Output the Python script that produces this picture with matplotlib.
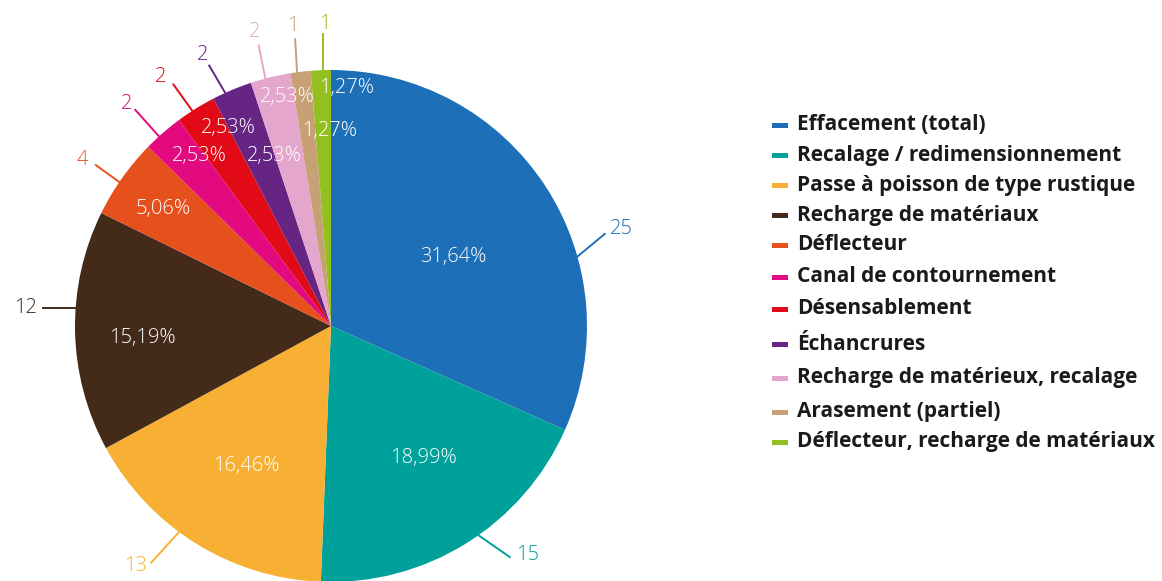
import numpy as np
import matplotlib
matplotlib.use("Agg")
import matplotlib.pyplot as plt
from matplotlib.patches import Rectangle

plt.rcParams['font.family'] = ['Open Sans', 'DejaVu Sans']

# data
categories = ["Effacement (total)", "Recalage / redimensionnement",
              "Passe à poisson de type rustique", "Recharge de matériaux",
              "Déflecteur", "Canal de contournement", "Désensablement",
              "Échancrures", "Recharge de matérieux, recalage",
              "Arasement (partiel)", "Déflecteur, recharge de matériaux"]
counts = [25, 15, 13, 12, 4, 2, 2, 2, 2, 1, 1]
pct_labels = ["31,64%", "18,99%", "16,46%", "15,19%", "5,06%", "2,53%",
              "2,53%", "2,53%", "2,53%", "1,27%", "1,27%"]
colors = ["#1d6fb8", "#00a19b", "#f7b034", "#442a19", "#e6501c", "#e3097f",
          "#e20a17", "#662583", "#e5a6cd", "#c8a075", "#93c01f"]

# layout (pixels, figure is 1162x581)
W, H = 1162, 581
cx, cy, R = 331, H - 326, 256
# percentage labels: angle offset from wedge middle, radius fraction
pct_off = [-3.5, 3.2, 0.9, 2.5, 0.4, -3.2, -4.6, -4.2, -3.0, -6.5, -5.9]
pct_r = [0.55, 0.63, 0.64, 0.74, 0.80, 0.84, 0.87, 0.70, 0.91, 0.76, 0.93]
# count labels: start angle offset, leader vector, text offset from leader end
cnt_off = [-17.4, 3.2, -4.5, -5.1, 1.1, 1.2, 0.9, 1.6, 1.2, 0.8, -0.5]
cnt_vec = [(29, 24), (33, -23), (-29, -32), (-35, 0), (-25, 18), (-25, 28),
           (-20, 28), (-17, 29), (-7, 35), (-2, 35), (0, 38)]
cnt_txt = [(16, 4), (17, 3), (-15, -3), (-16, 0), (-13, 5), (-8, 5),
           (-12, 7), (-6, 10), (-4, 13), (-2, 12), (2, 9)]
legend_y = [125, 155, 185, 215, 245, 277, 309, 344, 378, 412, 442]

fig = plt.figure(figsize=(W / 100, H / 100), dpi=100)
ax = fig.add_axes([0, 0, 1, 1])

wedges, _ = ax.pie(counts, colors=colors, startangle=90, counterclock=False,
                   center=(cx, cy), radius=R, wedgeprops=dict(linewidth=0))

for i, w in enumerate(wedges):
    mid = (w.theta1 + w.theta2) / 2

    a = np.radians(mid + pct_off[i])
    ax.text(cx + pct_r[i] * R * np.cos(a), cy + pct_r[i] * R * np.sin(a),
            pct_labels[i], color="white", fontsize=14.5, ha="center",
            va="center", fontweight="light")

    a = np.radians(mid + cnt_off[i])
    x0, y0 = cx + (R - 1) * np.cos(a), cy + (R - 1) * np.sin(a)
    x1, y1 = x0 + cnt_vec[i][0], y0 + cnt_vec[i][1]
    ax.plot([x0, x1], [y0, y1], color=colors[i], lw=1.4, solid_capstyle="butt")
    ax.text(x1 + cnt_txt[i][0], y1 + cnt_txt[i][1], str(counts[i]),
            color=colors[i], fontsize=14.5, ha="center", va="center",
            fontweight="light")

# legend
for i, lab in enumerate(categories):
    ax.add_patch(Rectangle((772, H - legend_y[i] - 2.5), 16, 5,
                           color=colors[i], lw=0))
    ax.text(797, H - legend_y[i], lab, fontsize=15, fontweight="bold",
            color="#1a1a1a", ha="left", va="center")

ax.set_xlim(0, W)
ax.set_ylim(0, H)
ax.set_aspect("equal")
ax.axis("off")

fig.savefig("out.png", dpi=100)
